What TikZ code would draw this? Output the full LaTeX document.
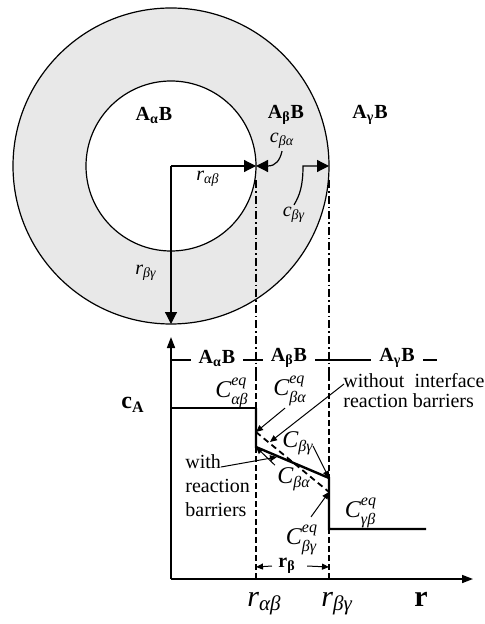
\documentclass[tikz,border=0pt]{standalone}
\usepackage{amsmath}
\usepackage{fontspec}
\setmainfont{Liberation Serif}
\usetikzlibrary{arrows.meta,positioning,calc}
\definecolor{ringgray}{RGB}{232,232,232}
\newcommand{\eqconc}[2]{$\textit{#1}^{\textit{eq}}_{\textit{#2}}$}
\newcommand{\subconc}[2]{$\textit{#1}_{\textit{#2}}$}
\tikzset{
  phase/.style={font=\bfseries,inner sep=2pt},
  phasegap/.style={phase,fill=white,inner sep=4pt},
  conc/.style={font=\fontsize{12}{14}\selectfont,inner sep=1pt},
  smallconc/.style={inner sep=1pt},
  note/.style={align=left,inner sep=1pt},
  radarrow/.style={-{Triangle[length=6pt,width=6pt]},line width=0.6pt},
  pointer/.style={-{Triangle[length=3.5pt,width=3pt]},line width=0.5pt},
  axisline/.style={-{Triangle[length=5.5pt,width=4pt]},line width=0.8pt},
  guide/.style={dash pattern=on 4pt off 1.5pt on 0.8pt off 1.5pt,line width=0.6pt},
  guidelow/.style={dash pattern=on 3pt off 1.5pt,line width=0.6pt},
  profile/.style={line width=1.2pt},
  barrierless/.style={dash pattern=on 3pt off 2pt,line width=0.9pt},
  axislabel/.style={font=\fontsize{15}{18}\selectfont,anchor=base west,inner sep=0pt}
}

\begin{document}
\begin{tikzpicture}[x=0.5pt,y=-0.5pt]
  \useasboundingbox (0,0) rectangle (485,624);
  % grain cross-section
  \coordinate (O) at (171,166);
  \draw[fill=ringgray,line width=0.6pt] (O) circle[radius=158];
  \draw[fill=white,line width=0.6pt] (O) circle[radius=85];
  \coordinate (iab) at (256,166);
  \coordinate (ibg) at (329,166);
  \coordinate (rim) at (171,324);
  \coordinate (bend) at (303,166);

  \node[phase] (ta) at (154,115) {A\textsubscript{α}B};
  \node[phase] (tb) at (286,115) {A\textsubscript{β}B};
  \node[phase] (tg) at (370,115) {A\textsubscript{γ}B};

  \node[smallconc] (rab) at (208,179) {\subconc{r}{αβ}};
  \node[smallconc] (rbg) at (146,273) {\subconc{r}{βγ}};
  \node[smallconc] (cbau) at (282,141) {\subconc{c}{βα}};
  \node[smallconc] (cbgu) at (294,215) {\subconc{c}{βγ}};

  \draw[radarrow] (O) -- (iab);
  \draw[radarrow] (O) -- (rim);
  \draw[radarrow] (cbau.south) .. controls (280,160) and (276,166) .. (iab);
  \draw[radarrow] (cbgu.north) .. controls (300,195) and (303,185) .. (bend) -- (ibg);

  % guide lines
  \draw[guide] (256,180) -- (256,375);
  \draw[guide] (329,180) -- (329,375);
  \draw[guidelow] (256,375) -- (256,579);
  \draw[guidelow] (329,375) -- (329,579);

  % concentration profile
  \coordinate (org) at (171,579);
  \coordinate (ytip) at (171,337);
  \coordinate (xtip) at (473,579);
  \draw[axisline] (org) -- (ytip);
  \draw[axisline] (org) -- (xtip);

  \draw[line width=0.6pt] (171,360) -- (437,360);
  \node[phasegap] (la) at (217,358) {A\textsubscript{α}B};
  \node[phasegap] (lb) at (289,358) {A\textsubscript{β}B};
  \node[phasegap] (lg) at (397,358) {A\textsubscript{γ}B};

  \coordinate (cA) at (171,408);
  \coordinate (p1) at (256,408);
  \coordinate (p2) at (256,432);
  \coordinate (p3) at (256,447);
  \coordinate (p4) at (329,478);
  \coordinate (p5) at (329,492);
  \coordinate (p6) at (329,529);
  \coordinate (p7) at (426,529);
  \draw[line width=0.7pt] (cA) -- (p1);
  \draw[profile] (p1) -- (p3) -- (p4) -- (p6) -- (p7);
  \draw[barrierless] (p2) -- (p5);

  \node[font=\fontsize{12}{14}\selectfont\bfseries] (cAl) at (133,405) {c\textsubscript{A}};
  \node[conc] (ceqab) at (232,393) {\eqconc{C}{αβ}};
  \node[conc] (ceqba) at (290,391) {\eqconc{C}{βα}};
  \node[conc] (ceqbg) at (302,540) {\eqconc{C}{βγ}};
  \node[conc] (ceqgb) at (361,513) {\eqconc{C}{γβ}};
  \node[conc] (cbgl) at (298,443) {\subconc{C}{βγ}};
  \node[conc] (cbal) at (294,479) {\subconc{C}{βα}};

  \node[note,anchor=north west] (wo) at (341,371) {without\ \ interface\\[-2pt]reaction barriers};
  \node[note,anchor=north west] (wr) at (183,452) {with\\reaction\\barriers};
  \coordinate (wotip) at (270,442);
  \coordinate (wrtip) at (277,457);

  \draw[pointer] ($(ceqba.south)+(-5,0)$) -- (p2);
  \draw[pointer] ($(wo.north west)+(3,13)$) -- (wotip);
  \draw[pointer] ($(cbgl.east)+(-3,3)$) -- (p4);
  \draw[pointer] (cbal.north west) -- (p3);
  \draw[pointer] ($(wr.north west)+(38,15)$) -- (wrtip);
  \draw[pointer] ($(ceqbg.north)+(9,-6)$) -- (p5);

  % width of the beta layer
  \node[phase,inner sep=3pt] (rb) at (287,566) {r\textsubscript{β}};
  \coordinate (dl) at (256,567);
  \coordinate (dr) at (329,567);
  \draw[pointer] (rb.west) -- (dl);
  \draw[pointer] ($(rb.east)+(5,0)$) -- (dr);

  \node[axislabel] (rabl) at (247,606) {\subconc{r}{αβ}};
  \node[axislabel] (rbgl) at (321,606) {\subconc{r}{βγ}};
  \node[axislabel,font=\fontsize{15}{18}\selectfont\bfseries] (rl) at (414,606) {r};
\end{tikzpicture}
\end{document}
